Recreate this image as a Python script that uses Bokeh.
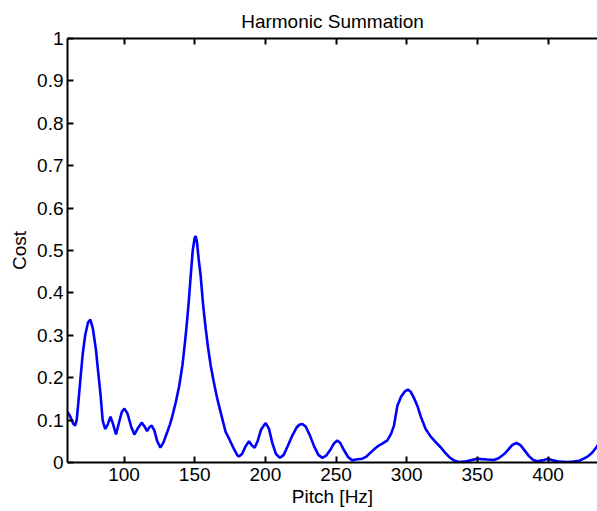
from bokeh.plotting import figure
from bokeh.models import LinearAxis, Range1d, FixedTicker
from bokeh.embed import file_html
from bokeh.resources import INLINE

pitch_hz = [60, 62, 64, 65.4, 66.5, 67.8, 69.5, 70.8, 72.5, 74.5, 76.2, 78, 80.2, 81.8, 83.3,
            84.9, 86.6, 88.5, 90.4, 92.3, 94.3, 96.5, 98.5, 100.3, 102.5, 105, 107.3, 110,
            112.5, 114.5, 116.3, 118, 119.6, 121.5, 123.5, 125.7, 128, 130.7, 132.5, 134,
            136.6, 139, 141.3, 143, 144.3, 145.8, 147.2, 148.6, 150, 150.7, 151.6, 152.8,
            154.2, 156, 157.8, 159.5, 161.3, 163.5, 166, 169, 171.9, 174.5, 177, 180.2,
            181.3, 183.5, 186, 188.4, 190.5, 192.4, 194.5, 197, 200.2, 202.5, 205, 207.5,
            210.3, 213, 216, 219, 222, 224, 226.2, 228.5, 231.5, 234.5, 237.5, 240.3, 243,
            246, 248.5, 250.9, 253, 255.5, 258.5, 261.5, 264, 268.6, 271.5, 275, 278, 280.3,
            283, 286.3, 289, 291, 293.4, 296, 298.5, 300.8, 303, 305, 307.5, 310, 313.4,
            317, 320.5, 324, 327, 330, 333.4, 337, 341, 345, 349.9, 353, 357, 361.7, 365,
            369, 372.5, 375, 377.7, 380.5, 383.5, 386.5, 389.5, 392.4, 396, 400.1, 403.5,
            408, 413.6, 418, 422, 425.3, 428.5, 431.5, 434.2, 436]
cost = [0.119, 0.108, 0.092, 0.087, 0.100, 0.146, 0.210, 0.257, 0.300, 0.330, 0.337, 0.315,
        0.264, 0.210, 0.163, 0.099, 0.079, 0.090, 0.108, 0.090, 0.066, 0.095, 0.120, 0.127,
        0.115, 0.085, 0.066, 0.082, 0.094, 0.085, 0.074, 0.083, 0.087, 0.075, 0.050, 0.035,
        0.048, 0.073, 0.090, 0.107, 0.142, 0.180, 0.229, 0.280, 0.323, 0.380, 0.441, 0.500,
        0.530, 0.534, 0.520, 0.480, 0.441, 0.370, 0.315, 0.270, 0.229, 0.190, 0.150, 0.110,
        0.072, 0.055, 0.037, 0.017, 0.014, 0.020, 0.038, 0.050, 0.040, 0.035, 0.050, 0.078,
        0.093, 0.080, 0.045, 0.020, 0.011, 0.018, 0.040, 0.063, 0.082, 0.089, 0.091, 0.085,
        0.064, 0.038, 0.018, 0.011, 0.016, 0.030, 0.045, 0.052, 0.046, 0.030, 0.013, 0.005,
        0.007, 0.009, 0.014, 0.025, 0.034, 0.040, 0.045, 0.052, 0.068, 0.087, 0.134, 0.155,
        0.167, 0.172, 0.166, 0.153, 0.134, 0.108, 0.079, 0.061, 0.048, 0.036, 0.024, 0.013,
        0.005, 0.001, 0.002, 0.005, 0.009, 0.008, 0.007, 0.006, 0.010, 0.020, 0.033, 0.042,
        0.046, 0.041, 0.028, 0.015, 0.006, 0.003, 0.005, 0.009, 0.005, 0.002, 0.001, 0.002,
        0.004, 0.009, 0.015, 0.024, 0.036, 0.045]

x_ticks = [100, 150, 200, 250, 300, 350, 400]
y_ticks = [0, 0.1, 0.2, 0.3, 0.4, 0.5, 0.6, 0.7, 0.8, 0.9, 1]
y_tick_labels = {0: "0", 0.1: "0.1", 0.2: "0.2", 0.3: "0.3", 0.4: "0.4", 0.5: "0.5",
                 0.6: "0.6", 0.7: "0.7", 0.8: "0.8", 0.9: "0.9", 1: "1"}

FONT = "Liberation Sans"

p = figure(width=597, height=511, output_backend="svg", toolbar_location=None,
           x_range=Range1d(60, 435), y_range=Range1d(0, 1),
           x_axis_label="Pitch [Hz]", y_axis_label="Cost", title="Harmonic Summation",
           min_border_left=67, min_border_right=0, min_border_top=38, min_border_bottom=49)
p.xgrid.visible = False
p.ygrid.visible = False
p.outline_line_color = None
p.background_fill_color = "white"
p.border_fill_color = "white"

p.title.align = "center"
p.title.text_font = FONT
p.title.text_font_size = "19px"
p.title.text_font_style = "normal"
p.title.text_color = "black"
p.title.standoff = 14

p.line(pitch_hz, cost, line_color="#0000ff", line_width=2.6)

def style_axis(ax):
    ax.axis_line_width = 2
    ax.axis_line_color = "black"
    ax.major_tick_in = 6
    ax.major_tick_out = 0
    ax.major_tick_line_width = 2
    ax.minor_tick_line_color = None
    ax.major_label_text_font = FONT
    ax.major_label_text_font_size = "19px"
    ax.major_label_text_color = "black"
    ax.axis_label_text_font = FONT
    ax.axis_label_text_font_size = "19px"
    ax.axis_label_text_font_style = "normal"
    ax.axis_label_text_color = "black"

xa = p.xaxis[0]
xa.ticker = FixedTicker(ticks=x_ticks)
style_axis(xa)
xa.major_label_standoff = 5
xa.axis_label_standoff = 2

ya = p.yaxis[0]
ya.ticker = FixedTicker(ticks=y_ticks)
ya.major_label_overrides = y_tick_labels
style_axis(ya)
ya.major_label_standoff = 4
ya.axis_label_standoff = 4

top = LinearAxis(ticker=FixedTicker(ticks=x_ticks))
style_axis(top)
top.major_label_overrides = {t: "" for t in x_ticks}
top.major_label_standoff = 0
p.add_layout(top, "above")

open("out.html", "w").write(file_html(p, INLINE))
